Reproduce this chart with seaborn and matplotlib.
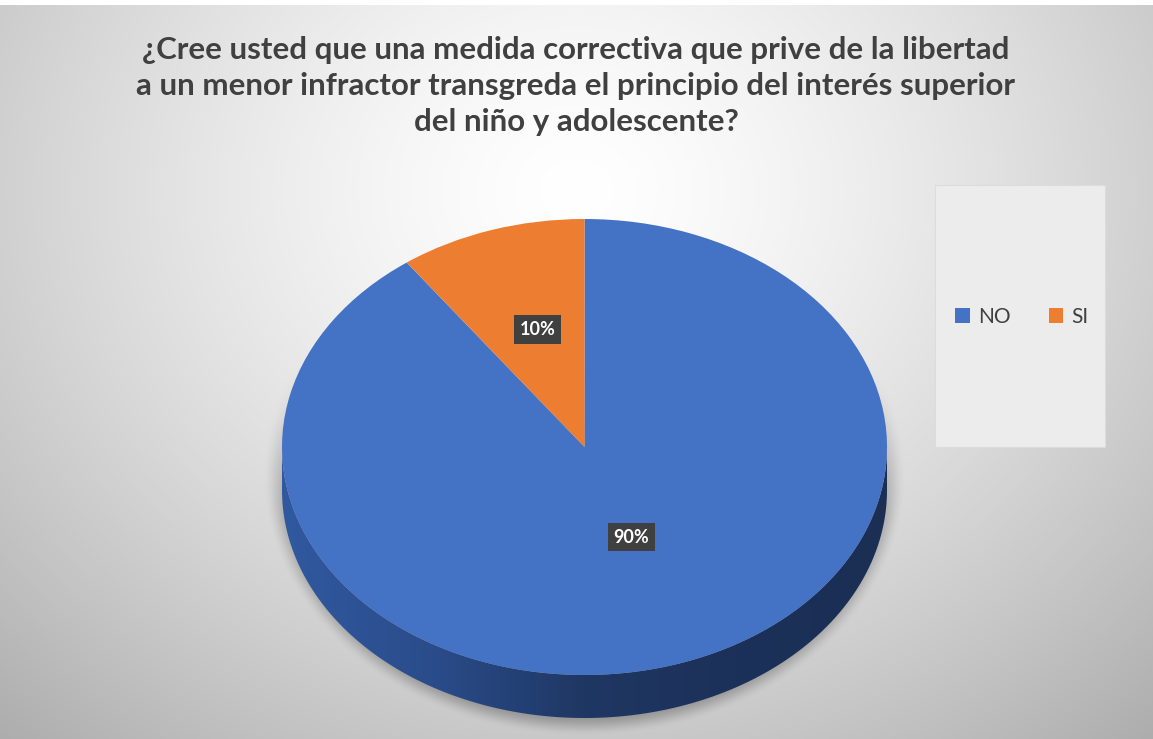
import numpy as np
import matplotlib
matplotlib.use("Agg")
import matplotlib.pyplot as plt
import seaborn as sns
from matplotlib.patches import Rectangle, Polygon
from matplotlib.colors import LinearSegmentedColormap

# ---------------- data ----------------
categories = ["NO", "SI"]
values = [90, 10]
colors = ["#4472C4", "#ED7D31"]
title_lines = [
    "¿Cree usted que una medida correctiva que prive de la libertad",
    "a un menor infractor transgreda el principio del interés superior",
    "del niño y adolescente?",
]

sns.set_theme(style="white")
plt.rcParams["font.family"] = ["Lato", "DejaVu Sans"]

W, H = 1153, 739
fig = plt.figure(figsize=(W / 100, H / 100), dpi=100)
fig.patch.set_facecolor("white")

# ---------------- background (gradient + pie shadow) ----------------
bg = fig.add_axes([0, 0, 1, 1])
bg.set_xlim(0, W)
bg.set_ylim(H, 0)
bg.axis("off")
yy, xx = np.mgrid[0:H, 0:W].astype(float)
r = np.sqrt(((xx - 576) / 820) ** 2 + ((yy - 190) / 700) ** 2)
val = 1.0 - 0.30 * np.clip(r, 0, 1.2) ** 1.4
# shadow of the pie on the floor
cx, cy, rx, ry = 584, 474, 322, 262
d = np.sqrt(((xx - cx) / rx) ** 2 + ((yy - cy) / ry) ** 2)
m = np.clip((1.0 - d) / 0.08, 0, 1)
m = m * m * (3 - 2 * m)
fade = np.clip((yy - 360) / 160, 0, 1)
val = val * (1 - 0.27 * m * fade)
img = np.dstack([val, val, val])
img[:5, :, :] = 1.0
bg.imshow(img, extent=(0, W, H, 0), aspect="auto", zorder=0, interpolation="bilinear")

# legend box
bg.add_patch(Rectangle((935, 185), 170, 262, facecolor="#ececec",
                       edgecolor="#dcdcdc", lw=0.8, zorder=1))

# title
for i, line in enumerate(title_lines):
    bg.text(576, 50 + i * 36, line, ha="center", va="center",
            fontsize=22.5, fontweight="bold", color="#404040", zorder=2)

# ---------------- pie axes ----------------
left, right, top, bot = 282, 887, 219, 718
ry_px = (675 - 219) / 2.0
depth = (bot - 675) / ry_px
ax = fig.add_axes([left / W, (H - bot) / H, (right - left) / W, (bot - top) / H])
ax.patch.set_alpha(0)

# side of the 3D pie (gradient, clipped to band between two lower half ellipses)
th = np.linspace(np.pi, 2 * np.pi, 300)
band = np.concatenate([
    np.column_stack([np.cos(th), np.sin(th) - depth]),
    np.column_stack([np.cos(th[::-1]), np.sin(th[::-1])]),
])
side = Polygon(band, closed=True, facecolor="none", edgecolor="none")
ax.add_patch(side)
side_cmap = LinearSegmentedColormap.from_list(
    "side", ["#3159a0", "#2a4c8a", "#1f3763", "#1c3159", "#1b2f55"])
grad = np.linspace(0, 1, 256).reshape(1, -1)
im = ax.imshow(grad, extent=(-1, 1, -1 - depth, 0), cmap=side_cmap,
               aspect="auto", zorder=1)
im.set_clip_path(side)

wedges, texts, autotexts = ax.pie(
    values, colors=colors, startangle=90, counterclock=False,
    autopct="%1.0f%%", pctdistance=0.5, radius=1, center=(0, 0),
    wedgeprops=dict(linewidth=0, zorder=2),
    textprops=dict(color="white", fontsize=13, fontweight="bold", zorder=5),
)
for w in wedges:
    w.set_zorder(2)
for t in autotexts:
    t.set_bbox(dict(boxstyle="square,pad=0.32", facecolor="#404040",
                    edgecolor="none"))
# nudge labels to match Excel placement
x0, y0 = autotexts[0].get_position()
autotexts[0].set_position((x0, y0 + 0.08))
x1, y1 = autotexts[1].get_position()
autotexts[1].set_position((x1, y1 + 0.04))

ax.set_aspect("auto")
ax.set_xlim(-1, 1)
ax.set_ylim(-1 - depth, 1)
ax.axis("off")

# legend
leg = fig.legend(wedges, categories, loc="center", ncol=2,
                 bbox_to_anchor=(1022 / W, 1 - 317 / H), frameon=False,
                 fontsize=15, handlelength=0.7, handleheight=0.7,
                 handletextpad=0.4, columnspacing=1.8, labelcolor="#404040")

fig.savefig("out.png", dpi=100)
